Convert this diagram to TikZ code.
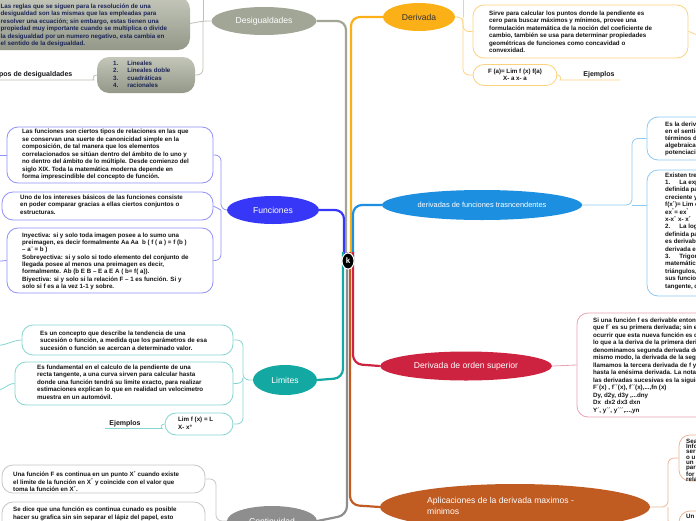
\documentclass[tikz,border=0pt]{standalone}
\usepackage{fontspec}
\setmainfont{Liberation Sans}
\usetikzlibrary{shapes.geometric}
\pgfdeclarelayer{bg}
\pgfsetlayers{bg,main}
\definecolor{dsgC}{HTML}{A1A696}
\definecolor{dsgL}{HTML}{BDC1B3}
\definecolor{derC}{HTML}{FCB017}
\definecolor{derL}{HTML}{FDD27F}
\definecolor{funC}{HTML}{3737F7}
\definecolor{funL}{HTML}{9090FA}
\definecolor{traC}{HTML}{1C8FE0}
\definecolor{traL}{HTML}{8FCAF2}
\definecolor{ordC}{HTML}{CD2340}
\definecolor{ordL}{HTML}{EAA2B2}
\definecolor{limC}{HTML}{14A8A2}
\definecolor{limL}{HTML}{84D5D1}
\definecolor{conC}{HTML}{8E8E8E}
\definecolor{conL}{HTML}{C6C6C6}
\definecolor{aplC}{HTML}{C05B22}
\definecolor{aplL}{HTML}{ECB696}
\definecolor{navy}{HTML}{1B2456}
\definecolor{ink}{HTML}{151515}
\definecolor{gTop}{HTML}{C3C6B8}
\definecolor{gBot}{HTML}{939889}
\tikzset{
  bubble/.style={ellipse, fill=#1, text=white, inner sep=0pt, font=\fontsize{8.6}{10.5}\selectfont},
  leaf/.style={draw=#1, line width=0.8pt, rounded corners=11pt, fill=white, inner sep=0pt},
  grayleaf/.style={rounded corners=12pt, top color=gTop, bottom color=gBot, inner sep=0pt},
  ltext/.style={anchor=north west, inner sep=0pt, align=left, text=ink, font=\fontsize{6.2}{7.5}\selectfont\bfseries},
  trunk/.style={draw=#1, line width=2.2pt, rounded corners=9pt},
  twig/.style={draw=#1, line width=0.8pt, rounded corners=6pt},
  tag/.style={inner sep=0pt, text=ink, font=\fontsize{7}{8}\selectfont\bfseries},
}
\begin{document}
\begin{tikzpicture}[x=1pt,y=-1pt]
\useasboundingbox (0,0) rectangle (696,520);
\clip (0,0) rectangle (696,520);

% ---------- main bubbles ----------
\node[bubble=dsgC, minimum width=105pt, minimum height=28pt] (dsg) at (264,21) {Desigualdades};
\node[bubble=derC, minimum width=72pt, minimum height=28pt, text=black!80] (der) at (419,17) {Derivada};
\node[bubble=funC, minimum width=92pt, minimum height=28pt] (fun) at (273,210) {Funciones};
\node[bubble=traC, minimum width=200pt, minimum height=30pt, font=\fontsize{7.4}{9}\selectfont] (tra) at (482,205) {derivadas de funciones trasncendentes};
\node[bubble=limC, minimum width=64pt, minimum height=30pt] (lim) at (285,380) {Limites};
\node[bubble=ordC, minimum width=172pt, minimum height=29pt] (ord) at (466,366) {Derivada de orden superior};
\node[bubble=conC, minimum width=90pt, minimum height=30pt] (con) at (272,521) {Continuidad};
\node[bubble=aplC, minimum width=270pt, minimum height=46pt] (apl) at (515,507) {};
\node[anchor=west, inner sep=0pt, align=left, text=white, font=\fontsize{8.6}{10.8}\selectfont] (aplt) at (427,506) {Aplicaciones de la derivada maximos -\\minimos};

\node[ellipse, fill=black, draw=white, line width=1pt, minimum width=12pt, minimum height=16pt, inner sep=0pt, text=white, font=\fontsize{8}{9}\selectfont\bfseries] (k) at (348,261) {k};

% ---------- trunk ----------
\begin{pgfonlayer}{bg}
\draw[trunk=dsgC] (dsg.east) -- (346,21) -- (346,261) -- (k.center -| 346,0);
\draw[trunk=derC] (der.west) -- (351,17) -- (351,261) -- (k.center -| 351,0);
\draw[trunk=funC] (fun.east) -- (344,210) -- (344,261) -- (k.center -| 344,0);
\draw[trunk=traC] (tra.west) -- (353,205) -- (353,261) -- (k.center -| 353,0);
\draw[trunk=limC] (lim.east) -- (343,378) -- (343,261) -- (k.center -| 343,0);
\draw[trunk=conC] (con.east) -- (347,515) -- (347,261) -- (k.center -| 347,0);
\draw[trunk=aplC] (apl.west) -- (350,505) -- (350,261) -- (k.center -| 350,0);
\draw[trunk=ordC] (ord.west) -- (353,364) -- (353,261) -- (k.center -| 353,0);
\end{pgfonlayer}

% ---------- Desigualdades leaves ----------
\node[grayleaf, minimum width=210pt, minimum height=53pt] (db1) at (85,23.5) {};
\node[ltext, text=navy] (db1t) at (0.5,3.6) {Las reglas que se siguen para la resolución de una\\desigualdad son las mismas que las empleadas para\\resolver una ecuación; sin embargo, estas tienen una\\propiedad muy importante cuando se multiplica o divide\\la desigualdad por un numero negativo, esta cambia en\\el sentido de la desigualdad.};
\node[grayleaf, minimum width=98pt, minimum height=36pt] (db2) at (146,75) {};
\node[ltext, text=navy] (db2t) at (113,60.5) {1.\hspace{9pt}Lineales\\2.\hspace{9pt}Lineales doble\\3.\hspace{9pt}cuadráticas\\4.\hspace{9pt}racionales};
\node[tag, anchor=east] (tipos) at (72.5,75) {Tipos de desigualdades};
\coordinate (dj) at (203,21);
\coordinate (dup) at (203,-12);
\coordinate (tipL) at (-10,80);
\begin{pgfonlayer}{bg}
\draw[twig=dsgL] (dsg.west) -- (dj) -- (db1.east);
\draw[twig=dsgL] (dj) |- (db2.east);
\draw[twig=dsgL] (dj) -- (dup);
\draw[twig=dsgL] (tipL) -- (88,80) .. controls (93,80) and (92,75) .. (db2.west);
\end{pgfonlayer}

% ---------- Derivada leaves ----------
\node[leaf=derL, minimum width=215pt, minimum height=53pt] (dv1) at (580.5,31.5) {};
\node[ltext] (dv1t) at (489,10.5) {Sirve para calcular los puntos donde la pendiente es\\cero para buscar máximos y mínimos, provee una\\formulación matemática de la noción del coeficiente de\\cambio, también se usa para determinar propiedades\\geométricas de funciones como concavidad o\\convexidad.};
\node[leaf=derL, minimum width=84pt, minimum height=21pt, align=center, text=ink, font=\fontsize{6.2}{7.3}\selectfont\bfseries] (dv2) at (515,75) {F (a)= Lim f (x) f(a)\\X- a x- a};
\node[tag] (ej1) at (599,75) {Ejemplos};
\coordinate (derj) at (463,17);
\coordinate (derup) at (463,-12);
\coordinate (ej1R) at (620,80);
\coordinate (dv1R) at (706,36);
\begin{pgfonlayer}{bg}
\draw[twig=derL] (der.east) -- (derj) |- (dv1.west);
\draw[twig=derL] (derj) |- (dv2.west);
\draw[twig=derL] (derj) -- (derup);
\draw[twig=derL] (dv2.east) .. controls (562,75) and (560,80) .. (566,80) -- (ej1R);
\draw[twig=derL] (dv1.east) .. controls (692,31.5) and (692,35) .. (dv1R);
\end{pgfonlayer}

% ---------- Funciones leaves ----------
\node[leaf=funL, minimum width=206pt, minimum height=56pt] (fA) at (110,155) {};
\node[ltext] (fAt) at (22,129.3) {Las funciones son ciertos tipos de relaciones en las que\\se conservan una suerte de canonicidad simple en la\\composición, de tal manera que los elementos\\correlacionados se sitúan dentro del ámbito de lo uno y\\no dentro del ámbito de lo múltiple. Desde comienzo del\\siglo XIX. Toda la matemática moderna depende en\\forma imprescindible del concepto de función.};
\node[leaf=funL, minimum width=211pt, minimum height=28pt] (fB) at (107.5,206) {};
\node[ltext] (fBt) at (20,194.4) {Uno de los intereses básicos de las funciones consiste\\en poder comparar gracias a ellas ciertos conjuntos o\\estructuras.};
\node[leaf=funL, minimum width=206pt, minimum height=65pt] (fC) at (110,260.5) {};
\node[ltext, font=\fontsize{6.2}{7.3}\selectfont\bfseries] (fCt) at (22,232.6) {Inyectiva: si y solo toda imagen posee a lo sumo una\\preimagen, es decir formalmente Aa Aa\ \ b ( f ( a ) = f (b )\\– a¨ = b )\\Sobreyectiva: si y solo si todo elemento del conjunto de\\llegada posee al menos una preimagen es decir,\\formalmente. Ab (b E B – E a E A ( b= f( a)).\\Biyectiva: si y solo si la relación F – 1 es función. Si y\\solo si f es a la vez 1-1 y sobre.};
\coordinate (funj) at (221,210);
\coordinate (fAL) at (-10,155);
\coordinate (fCL) at (-10,262);
\begin{pgfonlayer}{bg}
\draw[twig=funL] (fun.west) -- (funj) |- (fA.east);
\draw[twig=funL] (funj) -- (fB.east);
\draw[twig=funL] (funj) |- (fC.east);
\draw[twig=funL] (fA.west) -- (fAL);
\draw[twig=funL] (fC.west) -- (fCL);
\end{pgfonlayer}

% ---------- Limites leaves ----------
\node[leaf=limL, minimum width=211pt, minimum height=30pt] (L1) at (127.5,340) {};
\node[ltext] (L1t) at (40,330.4) {Es un concepto que describe la tendencia de una\\sucesión o función, a medida que los parámetros de esa\\sucesión o función se acercan a determinado valor.};
\node[leaf=limL, minimum width=218pt, minimum height=43pt] (L2) at (124,383.5) {};
\node[ltext] (L2t) at (37,364.3) {Es fundamental en el calculo de la pendiente de una\\recta tangente, a una curva sirven para calcular hasta\\donde una función tendrá su limite exacto, para realizar\\estimaciones explican lo que en realidad un velocimetro\\muestra en un automóvil.};
\node[leaf=limL, minimum width=68pt, minimum height=22pt] (L3) at (199,424) {};
\node[ltext] (L3t) at (178,417) {Lim f (x) = L\\X- x°};
\node[tag] (ej2) at (125,423.5) {Ejemplos};
\coordinate (limj) at (243,380);
\coordinate (L1L) at (-10,346);
\coordinate (L2L) at (-10,391);
\coordinate (ej2L) at (105,428.5);
\begin{pgfonlayer}{bg}
\draw[twig=limL] (lim.west) -- (limj) |- (L1.east);
\draw[twig=limL] (limj) |- (L2.east);
\draw[twig=limL] (limj) |- (L3.east);
\draw[twig=limL] (L1.west) .. controls (12,340) and (8,346) .. (L1L);
\draw[twig=limL] (L2.west) .. controls (6,383.5) and (6,391) .. (L2L);
\draw[twig=limL] (ej2L) -- (156,428.5) .. controls (161,428.5) and (160,424) .. (L3.west);
\end{pgfonlayer}

% ---------- Continuidad leaves ----------
\node[leaf=conL, minimum width=203pt, minimum height=28pt] (C1) at (103.5,479) {};
\node[ltext] (C1t) at (13,470.8) {Una función F es continua en un punto X\textsuperscript{°} cuando existe\\el limite de la función en X\textsuperscript{°} y coincide con el valor que\\toma la función en X\textsuperscript{°}.};
\node[leaf=conL, minimum width=203pt, minimum height=38pt] (C2) at (103.5,521) {};
\node[ltext] (C2t) at (13,506.8) {Se dice que una función es continua cunado es posible\\hacer su grafica sin sin separar el lápiz del papel, esto};
\coordinate (conj) at (216,521);
\begin{pgfonlayer}{bg}
\draw[twig=conL] (con.west) -- (conj) |- (C1.east);
\draw[twig=conL] (conj) -- (C2.east);
\end{pgfonlayer}

% ---------- trascendentes leaves ----------
\node[leaf=traL, minimum width=112pt, minimum height=43pt] (T1) at (703,138.5) {};
\node[ltext, font=\fontsize{6.2}{7}\selectfont\bfseries] (T1t) at (665,122) {Es la derivada de funciones no\\en el sentido de que no pueden\\términos de una secuencia\\algebraicas de suma, resta\\potenciación y extracción};
\node[leaf=traL, minimum width=112pt, minimum height=126pt] (T2) at (703,233) {};
\node[ltext, font=\fontsize{6.2}{7.4}\selectfont\bfseries] (T2t) at (665,172.5) {Existen tres tipos\\1.\hspace{9pt}La exponencial\\definida para todo\\creciente y,\\f(x\textsuperscript{°})= Lim e\\ex\textsuperscript{°}= ex\textsuperscript{°}\\x-x\textsuperscript{°} x- x\textsuperscript{°}\hspace{6pt}:\\2.\hspace{9pt}La logarítmica\\definida para\\es derivable\\derivada en\\3.\hspace{9pt}Trigonométricas\\matemáticas\\triángulos, las\\sus funciones\\tangente, cotangente};
\coordinate (traj) at (632,205);
\begin{pgfonlayer}{bg}
\draw[twig=traL] (tra.east) -- (traj) |- (T1.west);
\draw[twig=traL] (traj) -- (T2.west |- traj);
\end{pgfonlayer}

% ---------- orden superior leaf ----------
\node[leaf=ordL, minimum width=183pt, minimum height=104pt] (S1) at (668.5,365) {};
\node[ltext, font=\fontsize{6.2}{7.5}\selectfont\bfseries] (S1t) at (593,317.5) {Si una función f es derivable entonces\\que f´ es su primera derivada; sin embargo\\ocurrir que esta nueva función es derivable\\lo que a la deriva de la primera derivada\\denominamos segunda derivada de f. Del\\mismo modo, la derivada de la segunda\\llamamos la tercera derivada de f y así\\hasta la enésima derivada. La notación de\\las derivadas sucesivas es la siguiente:\\F´(x) , f´´(x), f´´(x),...,fn (x)\\Dy, d2y, d3y ,...dny\\Dx\ \ dx2 dx3 dxn\\Y´, y´´, y´´´,...,yn};
\begin{pgfonlayer}{bg}
\draw[twig=ordL] (ord.east) -- (S1.west);
\end{pgfonlayer}

% ---------- aplicaciones leaves ----------
\node[leaf=aplL, minimum width=60pt, minimum height=46pt] (A1) at (709,458) {};
\node[ltext, font=\fontsize{6.2}{5.2}\selectfont\bfseries] (A1t) at (686,439) {Sea\\Info\\ser\\o u\\un\\par\\for\\rela};
\node[leaf=aplL, minimum width=60pt, minimum height=30pt] (A2) at (709,526) {};
\node[ltext] (A2t) at (686,514.5) {Un};
\coordinate (aplj) at (668,507);
\begin{pgfonlayer}{bg}
\draw[twig=aplL] (apl.east) -- (aplj) |- (A1.west);
\draw[twig=aplL] (aplj) |- (A2.west);
\end{pgfonlayer}
\end{tikzpicture}
\end{document}
